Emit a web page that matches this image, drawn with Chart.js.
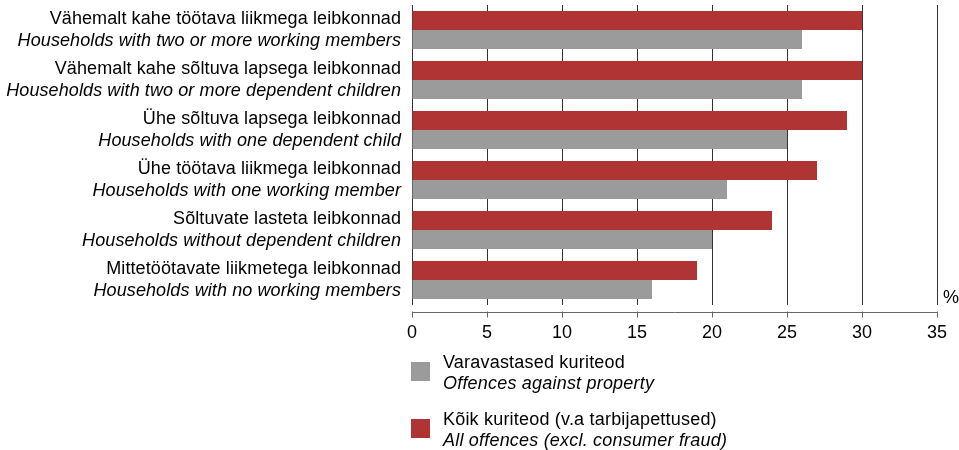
<!DOCTYPE html>
<html>
<head>
<meta charset="utf-8">
<script src="https://cdn.jsdelivr.net/npm/chart.js@4/dist/chart.umd.min.js"></script>
<style>
  html, body { margin: 0; padding: 0; background: #fff; }
  canvas { display: block; }
</style>
</head>
<body>
<canvas id="c" width="959" height="450"></canvas>
<script>
// Household types (Estonian name, English name underneath)
const categoriesEt = [
  'Vähemalt kahe töötava liikmega leibkonnad',
  'Vähemalt kahe sõltuva lapsega leibkonnad',
  'Ühe sõltuva lapsega leibkonnad',
  'Ühe töötava liikmega leibkonnad',
  'Sõltuvate lasteta leibkonnad',
  'Mittetöötavate liikmetega leibkonnad'
];
const categoriesEn = [
  'Households with two or more working members',
  'Households with two or more dependent children',
  'Households with one dependent child',
  'Households with one working member',
  'Households without dependent children',
  'Households with no working members'
];

// Victimisation rates, %
const allOffences = [30, 30, 29, 27, 24, 19];
const propertyOffences = [26, 26, 25, 21, 20, 16];

const xTickValues = [0, 5, 10, 15, 20, 25, 30, 35];

const seriesNamesEt = ['Kõik kuriteod (v.a tarbijapettused)', 'Varavastased kuriteod'];
const seriesNamesEn = ['All offences (excl. consumer fraud)', 'Offences against property'];

const RED = '#B13434';
const GREY = '#9B9B9B';
const FONT = '"Liberation Sans", Arial, sans-serif';
const SIZE = 18;

// Two-line category labels: upright Estonian, italic English
const categoryLabels = {
  id: 'categoryLabels',
  afterDraw(chart) {
    const ctx = chart.ctx;
    const y = chart.scales.y;
    ctx.save();
    ctx.fillStyle = '#000';
    ctx.textAlign = 'right';
    ctx.textBaseline = 'middle';
    ctx.letterSpacing = '0.1px';
    categoriesEt.forEach((et, i) => {
      const cy = y.getPixelForValue(i);
      ctx.font = SIZE + 'px ' + FONT;
      ctx.fillText(et, 401, cy - 10.5);
      ctx.font = 'italic ' + SIZE + 'px ' + FONT;
      ctx.fillText(categoriesEn[i], 401, cy + 10.5);
    });
    ctx.restore();
  }
};

// Detached value axis line with tick marks, plus the unit sign
const valueAxis = {
  id: 'valueAxis',
  afterDraw(chart) {
    const ctx = chart.ctx;
    const x = chart.scales.x;
    const area = chart.chartArea;
    const ay = area.bottom + 7.5;
    ctx.save();
    ctx.strokeStyle = '#666';
    ctx.lineWidth = 1;
    ctx.beginPath();
    ctx.moveTo(x.getPixelForValue(xTickValues[0]), ay);
    ctx.lineTo(x.getPixelForValue(xTickValues[xTickValues.length - 1]), ay);
    xTickValues.forEach(v => {
      const px = Math.round(x.getPixelForValue(v)) + 0.5;
      ctx.moveTo(px, ay - 1);
      ctx.lineTo(px, ay + 5);
    });
    ctx.stroke();
    ctx.fillStyle = '#000';
    ctx.font = SIZE + 'px ' + FONT;
    ctx.textAlign = 'left';
    ctx.textBaseline = 'middle';
    ctx.fillText('%', area.right + 6, area.bottom - 7);
    ctx.restore();
  }
};

// Legend below the axis: property offences first, then all offences
const legendBelow = {
  id: 'legendBelow',
  afterDraw(chart) {
    const ctx = chart.ctx;
    const items = [
      { color: GREY, et: seriesNamesEt[1], en: seriesNamesEn[1], top: 362 },
      { color: RED, et: seriesNamesEt[0], en: seriesNamesEn[0], top: 419 }
    ];
    ctx.save();
    ctx.letterSpacing = '0.2px';
    items.forEach(it => {
      ctx.fillStyle = it.color;
      ctx.fillRect(411, it.top, 19, 19);
      ctx.fillStyle = '#000';
      ctx.textAlign = 'left';
      ctx.textBaseline = 'middle';
      ctx.font = SIZE + 'px ' + FONT;
      ctx.fillText(it.et, 443, it.top + 1.5);
      ctx.font = 'italic ' + SIZE + 'px ' + FONT;
      ctx.fillText(it.en, 443, it.top + 21.5);
    });
    ctx.restore();
  }
};

new Chart(document.getElementById('c'), {
  type: 'bar',
  data: {
    labels: categoriesEt,
    datasets: [
      {
        label: seriesNamesEt[0],
        data: allOffences,
        backgroundColor: RED,
        categoryPercentage: 0.76,
        barPercentage: 1.0
      },
      {
        label: seriesNamesEt[1],
        data: propertyOffences,
        backgroundColor: GREY,
        categoryPercentage: 0.76,
        barPercentage: 1.0
      }
    ]
  },
  options: {
    indexAxis: 'y',
    responsive: false,
    animation: false,
    layout: { padding: { left: 412, right: 22, top: 5, bottom: 0 } },
    plugins: {
      legend: { display: false },
      tooltip: { enabled: false }
    },
    scales: {
      x: {
        min: 0,
        max: 35,
        afterBuildTicks: s => { s.ticks = xTickValues.map(v => ({ value: v })); },
        afterFit: s => {
          s.height = 145;
          s.paddingLeft = 0;
          s.paddingRight = 0;
        },
        ticks: {
          color: '#000',
          font: { size: SIZE, family: FONT },
          padding: 17,
          maxRotation: 0
        },
        grid: { color: '#333', lineWidth: 1, drawTicks: false },
        border: { display: false }
      },
      y: {
        display: false
      }
    }
  },
  plugins: [categoryLabels, valueAxis, legendBelow]
});
</script>
</body>
</html>
